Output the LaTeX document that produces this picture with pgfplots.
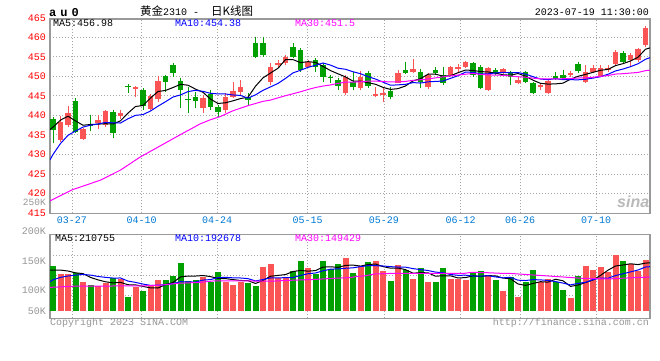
\documentclass[border=0pt]{standalone}
\usepackage{pgfplots}
\pgfplotsset{compat=1.18}
\usepackage{pgfplotstable}
\usepackage{fontspec}
\setmainfont{Liberation Mono}
\newfontfamily\cjk{Noto Sans CJK SC}
\newfontfamily\sinafont{Liberation Sans}
\definecolor{cred}{RGB}{250,84,84}
\definecolor{cgreen}{RGB}{0,160,0}
\definecolor{cframe}{RGB}{153,153,153}
\definecolor{cgrid}{RGB}{165,165,165}
\definecolor{cxlab}{RGB}{0,120,210}
\definecolor{cmag}{RGB}{255,0,255}
\definecolor{clab}{RGB}{150,150,150}

\pgfplotstableread{
k o h l c
1 433.7 439.8 433.3 438.4
2 437.5 442.4 437.1 440.5
4 433.9 436.8 433.7 436.4
6 438.1 440.2 436.5 438.8
7 437.5 441.4 437.0 441.1
9 439.8 441.5 439.2 440.5
11 446.7 447.6 444.6 447.2
13 441.6 445.4 441.3 445.0
14 444.1 450.1 443.5 448.8
20 441.8 445.2 440.6 444.5
23 441.4 445.7 440.5 444.8
24 444.8 448.6 444.4 446.3
25 446.1 449.1 445.2 447.4
29 448.6 453.3 447.8 452.5
30 452.9 454.2 452.5 453.5
31 453.3 455.5 452.9 455.0
34 452.5 454.2 452.1 453.8
39 445.7 450.4 445.2 449.8
41 446.9 451.5 446.5 449.9
43 445.0 447.2 444.6 445.5
44 445.3 447.2 443.5 445.8
46 448.4 451.6 448.2 450.9
48 451.2 454.4 450.9 452.0
50 447.2 450.9 446.7 450.4
53 450.4 452.7 450.1 452.5
54 451.8 453.2 451.2 452.5
55 452.5 454.0 452.1 453.8
58 446.5 452.5 446.3 452.1
60 450.9 452.1 450.6 451.8
62 448.2 449.8 448.0 449.1
65 447.2 448.4 446.5 447.8
66 445.8 449.1 445.5 448.8
69 450.4 451.5 449.9 450.9
71 448.6 452.9 448.4 451.2
72 451.2 452.9 450.9 452.1
73 449.9 452.9 449.8 452.1
74 451.6 452.9 451.2 452.1
75 453.2 456.8 452.9 456.3
77 454.2 456.1 452.5 455.5
78 454.2 457.2 453.8 456.9
79 458.1 462.8 457.6 462.4
}\redK

\pgfplotstableread{
k o h l c
0 439.1 439.7 433.0 436.3
3 443.7 444.4 435.5 435.8
5 437.8 440.1 436.1 437.3
8 440.9 441.5 434.3 435.4
10 447.5 448.0 445.8 447.2
12 446.5 446.9 441.4 442.4
15 450.1 450.3 446.1 448.6
16 452.9 453.5 449.8 450.9
17 448.8 449.7 441.8 446.5
18 444.3 447.2 440.5 443.9
19 444.8 446.1 441.9 443.8
21 445.4 446.4 441.3 442.2
22 442.2 442.6 439.7 440.9
26 444.8 445.8 442.4 443.9
27 458.5 460.2 454.6 455.0
28 458.5 460.2 455.0 455.5
32 457.6 458.5 454.6 455.0
33 456.8 457.2 451.2 451.6
35 454.2 454.6 451.2 452.5
36 452.9 453.3 448.6 449.9
37 449.9 450.4 448.2 449.6
38 449.1 449.5 446.5 447.5
40 448.6 451.2 446.5 447.2
42 450.9 451.5 446.9 447.5
45 446.3 447.2 444.1 444.6
47 451.6 453.8 450.6 450.9
49 451.2 452.0 446.9 448.6
51 451.6 452.5 450.4 450.9
52 450.4 452.5 447.8 448.4
56 453.3 453.6 449.8 450.4
57 452.5 452.9 446.7 446.9
59 451.6 452.1 450.4 450.9
61 451.2 451.5 447.8 449.8
63 451.2 451.5 448.4 448.6
64 448.2 448.6 445.5 445.8
67 450.1 451.2 449.1 449.4
68 450.4 451.6 449.2 449.5
70 453.1 453.8 450.9 451.5
76 456.1 456.4 453.3 453.7
}\greenK

\pgfplotstableread{
k v
1 164
2 164
4 128
6 110
7 122
9 139
11 107
13 113
14 136
20 148
23 128
24 114
25 129
28 194
29 207
30 147
31 144
34 189
39 233
41 198
43 220
44 176
46 202
48 141
50 128
53 141
54 141
55 136
58 158
60 88
62 62
65 126
66 141
69 57
71 198
72 180
73 194
74 172
75 246
77 207
78 176
79 224
}\redV

\pgfplotstableread{
k v
0 198
3 169
5 114
8 145
10 62
12 88
15 136
16 154
17 211
18 132
19 136
21 129
22 172
26 125
27 110
32 176
33 220
35 161
36 220
37 183
38 207
40 167
42 216
45 132
47 180
49 189
51 128
52 189
56 167
57 176
59 136
61 151
63 126
64 180
67 126
68 92
70 154
76 220
}\greenV

\pgfplotsset{
  panel/.style={
    scale only axis, width=600pt, anchor=south west,
    xmin=-0.4, xmax=79.6,
    axis line style={draw=cframe, line width=1.3pt},
    xtick={2.53,11.83,21.87,33.96,44.13,54.36,62.27,72.4},
    major tick length=0pt,
    xmajorgrids, ymajorgrids,
    major grid style={draw=cgrid, line width=0.9pt, dash pattern=on 1pt off 2pt},
    every tick label/.append style={font=\fontsize{10}{12}\selectfont},
  },
  vbar/.style={draw=none, mark=none, forget plot,
    error bars/.cd, y dir=plus, y explicit, error mark=none,
    error bar style={draw=#1, solid, line width=6pt}},
  wick/.style={draw=none, mark=none, forget plot,
    error bars/.cd, y dir=plus, y explicit, error mark=none,
    error bar style={draw=#1, solid, line width=1pt}},
  body/.style={draw=none, mark=none, forget plot,
    error bars/.cd, y dir=plus, y explicit, error mark=none,
    error bar style={draw=#1, solid, line width=5.7pt}},
}

\begin{document}
\begin{tikzpicture}[x=1pt,y=1pt, every node/.style={font=\fontsize{10}{12}\selectfont}]
\useasboundingbox (0,0) rectangle (660,360);

% ---------- price panel ----------
\begin{axis}[panel, at={(50pt,146.7pt)}, height=194.3pt,
  ymin=414.92, ymax=464.7,
  ytick={415,420,...,460},
  yticklabels={415,420,425,430,435,440,445,450,455,460},
  xticklabels={03-27,04-10,04-24,05-15,05-29,06-12,06-26,07-10},
  yticklabel style={text=red, anchor=east, inner sep=0pt, xshift=-4pt},
  xticklabel style={text=cxlab, anchor=north, inner sep=0pt, yshift=-3.6pt},
]
\addplot[wick=cred] table[x=k, y=l, y error expr=\thisrow{h}-\thisrow{l}] {\redK};
\addplot[body=cred] table[x=k, y=o, y error expr={max(\thisrow{c}-\thisrow{o},0.3)}] {\redK};
\addplot[wick=cgreen] table[x=k, y=l, y error expr=\thisrow{h}-\thisrow{l}] {\greenK};
\addplot[body=cgreen] table[x=k, y=c, y error expr={max(\thisrow{o}-\thisrow{c},0.3)}] {\greenK};
% MA5
\addplot[black, line width=1pt, mark=none] coordinates {(-0.4,436.4)(0,437.0)(1,438.8)(2,439.8)(3,438.6)(4,437.48)(5,437.68)(6,437.76)(7,437.88)(8,437.80)(9,438.62)(10,440.60)(11,442.28)(12,442.54)(13,444.46)(14,446.12)(15,446.40)(16,447.14)(17,447.96)(18,447.74)(19,446.74)(20,445.92)(21,444.18)(22,443.06)(23,443.24)(24,443.74)(25,444.32)(26,444.66)(27,447.48)(28,449.62)(29,450.86)(30,452.08)(31,454.30)(32,454.30)(33,453.52)(34,453.78)(35,453.58)(36,452.56)(37,451.48)(38,450.66)(39,449.86)(40,448.80)(41,448.80)(42,448.38)(43,447.98)(44,447.18)(45,446.66)(46,446.86)(47,447.54)(48,448.84)(49,449.40)(50,450.56)(51,450.56)(52,450.06)(53,450.16)(54,450.94)(55,451.62)(56,451.52)(57,451.22)(58,451.14)(59,450.82)(60,450.42)(61,450.30)(62,450.74)(63,450.04)(64,449.02)(65,448.22)(66,448.02)(67,448.08)(68,448.26)(69,449.28)(70,450.02)(71,450.50)(72,451.04)(73,451.56)(74,451.80)(75,452.76)(76,453.26)(77,453.94)(78,454.90)(79,456.96)(79.6,457.3)};
% MA10
\addplot[blue, line width=1pt, mark=none] coordinates {(-0.4,428.6)(0,430.0)(1,432.8)(2,434.9)(3,436.0)(4,437.0)(5,437.5)(6,437.8)(7,438.2)(8,438.1)(9,438.05)(10,439.14)(11,440.02)(12,440.21)(13,441.13)(14,442.37)(15,443.50)(16,444.71)(17,445.25)(18,446.10)(19,446.43)(20,446.16)(21,445.66)(22,445.51)(23,445.49)(24,445.24)(25,445.12)(26,444.42)(27,445.27)(28,446.43)(29,447.30)(30,448.20)(31,449.48)(32,450.89)(33,451.57)(34,452.32)(35,452.83)(36,453.43)(37,452.89)(38,452.09)(39,451.82)(40,451.19)(41,450.68)(42,449.93)(43,449.32)(44,448.52)(45,447.73)(46,447.83)(47,447.96)(48,448.41)(49,448.29)(50,448.61)(51,448.71)(52,448.80)(53,449.50)(54,450.17)(55,451.09)(56,451.04)(57,450.64)(58,450.65)(59,450.88)(60,451.02)(61,450.91)(62,450.98)(63,450.59)(64,449.92)(65,449.32)(66,449.16)(67,449.41)(68,449.15)(69,449.15)(70,449.12)(71,449.26)(72,449.56)(73,449.91)(74,450.54)(75,451.39)(76,451.88)(77,452.49)(78,453.23)(79,454.38)(79.6,454.8)};
% MA30
\addplot[cmag, line width=1pt, mark=none] coordinates {(-0.4,418.1)(2.5,420.9)(6.3,423.4)(9,426.0)(11.6,429.3)(14.3,432.2)(17.1,435.2)(19.6,437.8)(21,438.9)(22.3,439.7)(24,441.2)(26,442.5)(28,443.6)(29,443.93)(30,444.50)(31,445.05)(32,445.54)(33,446.06)(34,446.64)(35,447.15)(36,447.52)(37,447.80)(38,448.21)(39,448.52)(40,448.52)(41,448.61)(42,448.78)(43,448.79)(44,448.69)(45,448.56)(46,448.56)(47,448.71)(48,448.98)(49,449.14)(50,449.33)(51,449.62)(52,449.87)(53,450.13)(54,450.34)(55,450.55)(56,450.77)(57,450.50)(58,450.38)(59,450.33)(60,450.27)(61,450.10)(62,449.90)(63,449.80)(64,449.54)(65,449.38)(66,449.34)(67,449.34)(68,449.40)(69,449.44)(70,449.58)(71,449.63)(72,449.78)(73,450.00)(74,450.21)(75,450.60)(76,450.69)(77,450.85)(78,451.01)(79,451.47)(79.6,451.6)};
\end{axis}

% ---------- volume panel ----------
\begin{axis}[panel, at={(50pt,41.7pt)}, height=83.6pt,
  ymin=-32.1, ymax=335.7,
  ytick={67.3,155.3,243.3}, yticklabels={},
  xticklabels={},
]
\addplot[vbar=cred] table[x=k, y expr=0, y error=v] {\redV};
\addplot[vbar=cgreen] table[x=k, y expr=0, y error=v] {\greenV};
\addplot[black, line width=1pt, mark=none] coordinates {(-0.4,180)(0,180)(1,180)(2,176)(3,168)(4,164.6)(5,147.8)(6,137.0)(7,128.6)(8,123.8)(9,126.0)(10,115.6)(11,115.0)(12,108.2)(13,101.8)(14,101.2)(15,116.0)(16,125.4)(17,150.0)(18,153.8)(19,153.8)(20,156.2)(21,151.2)(22,143.4)(23,142.6)(24,138.2)(25,134.4)(26,133.6)(27,121.2)(28,134.4)(29,153.0)(30,156.6)(31,160.4)(32,173.6)(33,178.8)(34,175.2)(35,178.0)(36,193.2)(37,194.6)(38,192.0)(39,200.8)(40,202.0)(41,197.6)(42,204.2)(43,206.8)(44,195.4)(45,188.4)(46,189.2)(47,182.0)(48,166.2)(49,168.8)(50,168.0)(51,153.2)(52,155.0)(53,155.0)(54,145.4)(55,147.0)(56,154.8)(57,152.2)(58,155.6)(59,154.6)(60,145.0)(61,141.8)(62,119.0)(63,112.6)(64,121.4)(65,129.0)(66,127.0)(67,139.8)(68,133.0)(69,108.4)(70,114.0)(71,125.4)(72,136.2)(73,156.6)(74,179.6)(75,198.0)(76,202.4)(77,207.8)(78,204.2)(79,210.8)(79.6,212)};
\addplot[blue, line width=1pt, mark=none] coordinates {(-0.4,129)(0,137)(1,148)(2,154)(3,158)(4,161)(5,158)(6,152)(7,148)(8,145)(9,145.3)(10,131.7)(11,126.0)(12,118.4)(13,112.8)(14,113.6)(15,115.8)(16,120.2)(17,129.1)(18,127.8)(19,127.5)(20,136.1)(21,138.3)(22,146.7)(23,148.2)(24,146.0)(25,145.3)(26,142.4)(27,132.3)(28,138.5)(29,145.6)(30,145.5)(31,147.0)(32,147.4)(33,156.6)(34,164.1)(35,167.3)(36,176.8)(37,184.1)(38,185.4)(39,188.0)(40,190.0)(41,195.4)(42,199.4)(43,199.4)(44,198.1)(45,195.2)(46,193.4)(47,193.1)(48,186.5)(49,182.1)(50,178.2)(51,171.2)(52,168.5)(53,160.6)(54,157.1)(55,157.5)(56,154.0)(57,153.6)(58,155.3)(59,150.0)(60,146.0)(61,148.3)(62,135.6)(63,134.1)(64,138.0)(65,137.0)(66,134.4)(67,129.4)(68,122.8)(69,114.9)(70,121.5)(71,126.2)(72,138.0)(73,144.8)(74,144.0)(75,156.0)(76,163.9)(77,172.0)(78,180.4)(79,193.5)(79.6,195)};
\addplot[cmag, line width=1pt, mark=none] coordinates {(-0.4,104)(3.4,110)(7.8,110)(12.3,111)(14.5,114)(16.7,122)(19.6,126)(21.6,133)(26.9,132)(29.6,132)(32.3,136)(34.9,139)(37.6,144)(39.6,147)(40.3,151)(41.6,155)(42.9,163)(45.6,166)(52.3,166)(54.9,166)(55.8,170)(57.6,169)(59.6,166)(60.7,166)(62,163)(64.7,157)(67.4,151)(70.5,144)(74,141)(77.6,147)(79.6,149.4)};
\end{axis}

% ---------- texts ----------
\node[anchor=base west, inner sep=0, font=\fontsize{12}{12}\selectfont\bfseries] at (49,344) {a\hspace{4pt}u\hspace{4pt}0};
\node[anchor=base west, inner sep=0] at (140,345) {{\cjk\fontsize{11.5}{12}\selectfont 黄金}2310 -\ \ {\cjk\fontsize{11.5}{12}\selectfont 日K线图}};
\node[anchor=base east, inner sep=0] at (649,344.3) {2023-07-19 11:30:00};
\node[anchor=base west, inner sep=0, text=black] at (53,333.3) {MA5:456.98};
\node[anchor=base west, inner sep=0, text=blue] at (175,333.3) {MA10:454.38};
\node[anchor=base west, inner sep=0, text=cmag] at (295,333.3) {MA30:451.5};
\node[anchor=east, inner sep=0, text=red] at (46,342.2) {465};
\node[anchor=east, inner sep=0, text=clab, font=\fontsize{9.5}{10}\selectfont] at (46,157.5) {250K};
\node[anchor=east, inner sep=0, text=clab] at (46,129.3) {200K};
\node[anchor=east, inner sep=0, text=clab] at (46,99.3) {150K};
\node[anchor=east, inner sep=0, text=clab] at (46,70) {100K};
\node[anchor=east, inner sep=0, text=clab] at (46,49.3) {50K};
\node[anchor=base west, inner sep=0, text=black] at (55,119) {MA5:210755};
\node[anchor=base west, inner sep=0, text=blue] at (175,119) {MA10:192678};
\node[anchor=base west, inner sep=0, text=cmag] at (295,119) {MA30:149429};
\node[anchor=base west, inner sep=0, text=clab] at (50,35) {Copyright 2023 SINA.COM};
\node[anchor=base east, inner sep=0, text=clab] at (649,34.5) {http://finance.sina.com.cn};
\node[anchor=base west, inner sep=0, text=gray!55, font=\sinafont\bfseries\itshape\fontsize{16}{16}\selectfont] at (617,153) {sina};
\end{tikzpicture}
\end{document}
